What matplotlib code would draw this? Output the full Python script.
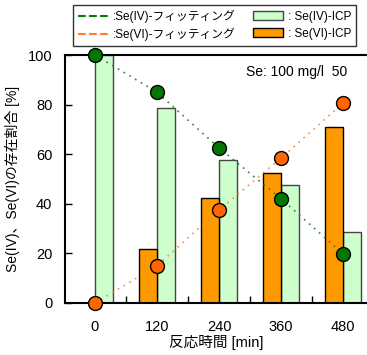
import numpy as np
import matplotlib.pyplot as plt
from matplotlib.ticker import MultipleLocator, FixedLocator

plt.rcParams['font.family'] = ['Liberation Sans', 'Noto Sans CJK JP']

times = [0, 120, 240, 360, 480]
se4_icp = [100, 78.6, 57.7, 47.6, 28.6]
se6_icp = [0, 21.8, 42.3, 52.4, 71.0]
se4_fit = [100, 85.0, 62.5, 42.0, 19.8]
se6_fit = [0, 15.0, 37.5, 58.5, 80.6]

fig = plt.figure(figsize=(3.67, 3.55), dpi=100)
ax = fig.add_axes([0.177, 0.1465, 0.823, 0.6985])

w = 35
t = np.array(times)
ax.bar(t + w / 2, se4_icp, width=w, color='#ccffcc', edgecolor='#444444', linewidth=1.0, zorder=2)
ax.bar(t - w / 2, se6_icp, width=w, color='#ff9900', edgecolor='black', linewidth=1.0, zorder=2)

ax.plot(t, se4_fit, color='#2e8b2e', linestyle=(0, (1, 3)), linewidth=1.2, zorder=3)
ax.plot(t, se6_fit, color='#ff8c40', linestyle=(0, (1, 3)), linewidth=1.2, zorder=3)
ax.plot(t, se4_fit, 'o', color='#007700', markeredgecolor='black', markersize=10, zorder=4, clip_on=False)
ax.plot(t, se6_fit, 'o', color='#ff6600', markeredgecolor='black', markersize=10, zorder=4, clip_on=False)

ax.set_xlim(-58, 526)
ax.set_ylim(0, 100)
ax.spines['right'].set_visible(False)
for s in ['left', 'top', 'bottom']:
    ax.spines[s].set_linewidth(1.5)

ax.xaxis.set_major_locator(FixedLocator(times))
ax.xaxis.set_minor_locator(FixedLocator([60, 180, 300, 420]))
ax.yaxis.set_major_locator(MultipleLocator(20))
ax.tick_params(axis='both', which='both', direction='in', labelsize=10.5, width=1)
ax.tick_params(axis='x', which='major', length=0, pad=12)
ax.tick_params(axis='x', which='minor', length=5)
ax.tick_params(axis='y', which='major', length=5, pad=9)
ax.tick_params(top=False, right=False)

ax.set_xlabel('反応時間 [min]', fontsize=10.5, labelpad=1)
ax.set_ylabel('Se(IV)、Se(VI)の存在割合 [%]', fontsize=10, labelpad=6)

ax.text(0.6, 0.93, 'Se: 100 mg/l  50', transform=ax.transAxes, fontsize=10,
        ha='left', va='center')

h1, = ax.plot([], [], color='#008000', linestyle='--', linewidth=1.5)
h2, = ax.plot([], [], color='#ff7f27', linestyle='--', linewidth=1.5)
h3 = plt.Rectangle((0, 0), 1, 1, facecolor='#ccffcc', edgecolor='#444444')
h4 = plt.Rectangle((0, 0), 1, 1, facecolor='#ff9900', edgecolor='black')
leg = fig.legend([h1, h2, h3, h4],
                 [':Se(IV)-フィッティング', ':Se(VI)-フィッティング', ': Se(IV)-ICP', ': Se(VI)-ICP'],
                 ncol=2, loc='upper center', bbox_to_anchor=(0.585, 0.986),
                 fontsize=8.5, frameon=True, fancybox=False,
                 edgecolor='black', handlelength=2.6, handleheight=0.8, handletextpad=0.4,
                 borderaxespad=0, labelspacing=0.4, borderpad=0.4, columnspacing=1.4)
leg.get_frame().set_linewidth(1.0)

fig.savefig('out.png', dpi=100)
